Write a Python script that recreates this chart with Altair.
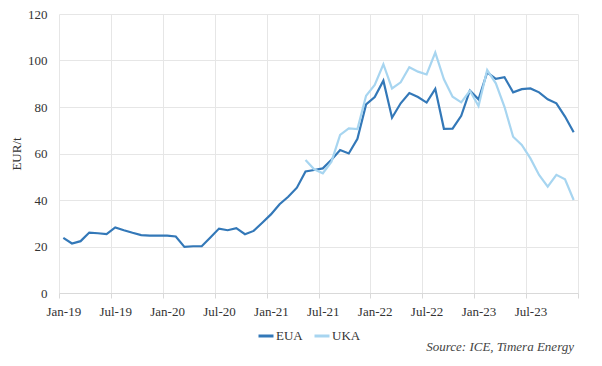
import altair as alt
import pandas as pd

months = [f"{m}-{y}" for y in ["19", "20", "21", "22", "23"]
          for m in ["Jan", "Feb", "Mar", "Apr", "May", "Jun",
                    "Jul", "Aug", "Sep", "Oct", "Nov", "Dec"]]

eua = [
    23.7, 21.3, 22.3, 26.0, 25.7, 25.3, 28.2, 27.0, 25.9, 24.9, 24.7, 24.7,
    24.7, 24.3, 19.8, 20.1, 20.1, 23.9, 27.7, 27.0, 27.9, 25.3, 26.7, 30.2,
    33.8, 38.2, 41.4, 45.3, 52.3, 52.9, 53.6, 57.3, 61.5, 60.0, 66.3, 81.1,
    84.3, 91.3, 75.4, 81.6, 86.0, 84.3, 81.9, 87.8, 70.6, 70.7, 76.2, 87.1,
    83.3, 94.9, 92.1, 92.8, 86.3, 87.7, 88.0, 86.3, 83.3, 81.6, 75.9, 69.1,
]

uka = [None] * 28 + [
    57.2, 53.2, 51.5, 56.5, 68.0, 70.8, 70.5, 84.8,
    89.5, 98.4, 88.0, 90.6, 97.1, 95.2, 94.0, 103.4, 91.9, 84.4, 82.0, 87.0,
    80.4, 95.9, 90.2, 80.1, 67.2, 63.7, 57.9, 50.8, 45.7, 50.8, 48.9, 40.0,
]

series_names = ["EUA", "UKA"]
series_colors = ["#3378B8", "#A7D5F0"]
tick_labels = ["Jan-19", "Jul-19", "Jan-20", "Jul-20", "Jan-21", "Jul-21",
               "Jan-22", "Jul-22", "Jan-23", "Jul-23", ""]
y_ticks = [0, 20, 40, 60, 80, 100, 120]
source_text = "Source: ICE, Timera Energy"

rows = []
for i, m in enumerate(months):
    rows.append({"idx": i, "month": m, "series": "EUA", "value": eua[i]})
    if uka[i] is not None:
        rows.append({"idx": i, "month": m, "series": "UKA", "value": uka[i]})
df = pd.DataFrame(rows)

FONT = "'Liberation Serif', 'DejaVu Serif', serif"
grid_vals = [-0.5 + 6 * k for k in range(11)]
label_arr = "[" + ",".join(f"'{t}'" for t in tick_labels) + "]"

lines = alt.Chart(df).mark_line(strokeWidth=2.2).encode(
    x=alt.X("idx:Q",
            scale=alt.Scale(domain=[-0.5, 59.5], nice=False, zero=False),
            axis=alt.Axis(values=grid_vals,
                          labelExpr=f"{label_arr}[round((datum.value + 0.5) / 6)]",
                          title=None, grid=True, gridColor="#E6E6E6",
                          domainColor="#D9D9D9", tickColor="#D9D9D9",
                          tickSize=5, labelOffset=4.3, labelFlush=False,
                          labelPadding=7, labelFont=FONT, labelFontSize=13,
                          labelColor="#333333", labelOverlap=False)),
    y=alt.Y("value:Q",
            scale=alt.Scale(domain=[0, 120], nice=False),
            axis=alt.Axis(values=y_ticks, title="EUR/t", grid=True,
                          gridColor="#E6E6E6", domain=False, ticks=False,
                          labelPadding=12, labelFont=FONT, labelFontSize=13,
                          labelColor="#333333", titleFont=FONT,
                          titleFontSize=13, titleFontWeight="normal",
                          titleColor="#333333", titleX=-36, titleY=139.5)),
    color=alt.Color("series:N",
                    scale=alt.Scale(domain=series_names, range=series_colors),
                    legend=alt.Legend(title=None, orient="none",
                                      legendX=198, legendY=313,
                                      direction="horizontal",
                                      symbolType="stroke",
                                      symbolStrokeWidth=3, symbolSize=225,
                                      labelFont=FONT, labelFontSize=13,
                                      labelColor="#333333", columnPadding=5,
                                      labelOffset=1)),
    order="idx:Q",
)

src = alt.Chart(pd.DataFrame({"t": [source_text]})).mark_text(
    align="right", baseline="middle", font=FONT, fontStyle="italic",
    fontSize=13, color="#444444"
).encode(x=alt.value(515), y=alt.value(333), text="t:N")

chart = alt.layer(lines, src).properties(
    width=519, height=279,
    autosize=alt.AutoSizeParams(type="none"),
    padding={"left": 51, "top": 6, "right": 16, "bottom": 66},
).configure_view(stroke=None)

chart.save("out.html", embed_options={"renderer": "svg", "actions": False})
